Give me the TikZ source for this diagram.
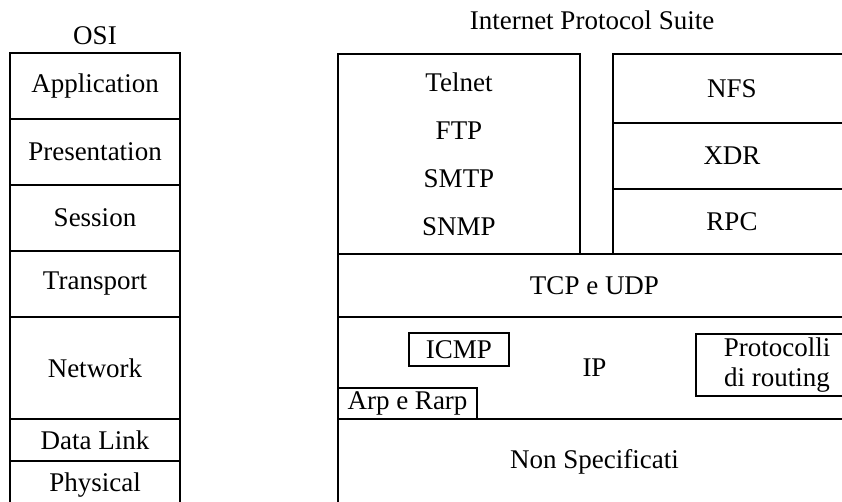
\documentclass[tikz,border=0pt]{standalone}
\usepackage{fontspec}
\setmainfont{Liberation Serif}
\usetikzlibrary{positioning}
\tikzset{
  layer/.style={draw=black, line width=1.2pt, outer sep=0pt, inner sep=0pt, align=center},
  osilayer/.style={layer, minimum width=85pt},
  inbox/.style={draw=black, line width=1pt, outer sep=0pt, inner sep=0pt, align=center},
}
\begin{document}
\begin{tikzpicture}[x=0.5pt, y=-0.5pt, font=\fontsize{13.5pt}{16pt}\selectfont]
\useasboundingbox (0,0) rectangle (842,502);
\clip (0,0) rectangle (842,502);
% OSI stack
\node (osi) at (95,36) {OSI};
\node[osilayer, minimum height=33pt] (app) at (95,86) {Application};
\node[osilayer, minimum height=33pt, below=0pt of app] (pres) {Presentation};
\node[osilayer, minimum height=33pt, below=0pt of pres] (sess) {Session};
\node[osilayer, minimum height=33pt, below=0pt of sess] (trans) {Transport};
\node[osilayer, minimum height=51pt, below=0pt of trans] (net) {Network};
\node[osilayer, minimum height=21pt, below=0pt of net] (dl) {Data Link};
\node[osilayer, minimum height=24pt, below=0pt of dl] (phys) {Physical};
% Internet Protocol Suite
\node (ips) at (592,20) {Internet Protocol Suite};
\node[layer, minimum width=121pt, minimum height=100pt,
      font=\fontsize{13.5pt}{24pt}\selectfont] (apps) at (459,154) {Telnet\\FTP\\SMTP\\SNMP};
\node[layer, minimum width=119pt, minimum height=34.5pt] (nfs) at (732,88.5) {NFS};
\node[layer, minimum width=119pt, minimum height=33pt, below=0pt of nfs] (xdr) {XDR};
\node[layer, minimum width=119pt, minimum height=32.5pt, below=0pt of xdr] (rpc) {RPC};
\node[layer, minimum width=256.5pt, minimum height=31.5pt] (tcpudp) at (594.5,285.5) {TCP e UDP};
\node[layer, minimum width=256.5pt, minimum height=51pt, below=0pt of tcpudp] (ip) {IP};
\node[layer, minimum width=256.5pt, minimum height=43pt, below=0pt of ip] (nonspec) {Non Specificati};
% boxes inside IP
\node[inbox, minimum width=50pt, minimum height=16.5pt] (icmp) at (459,349.5) {ICMP};
\node[inbox, minimum width=69.5pt, minimum height=15.5pt] (arp) at (407.5,403.5) {Arp e Rarp};
\node[inbox, minimum width=81pt, minimum height=31pt,
      font=\fontsize{13.5pt}{15pt}\selectfont] (routing) at (777,365) {Protocolli\\di routing};
\end{tikzpicture}
\end{document}
